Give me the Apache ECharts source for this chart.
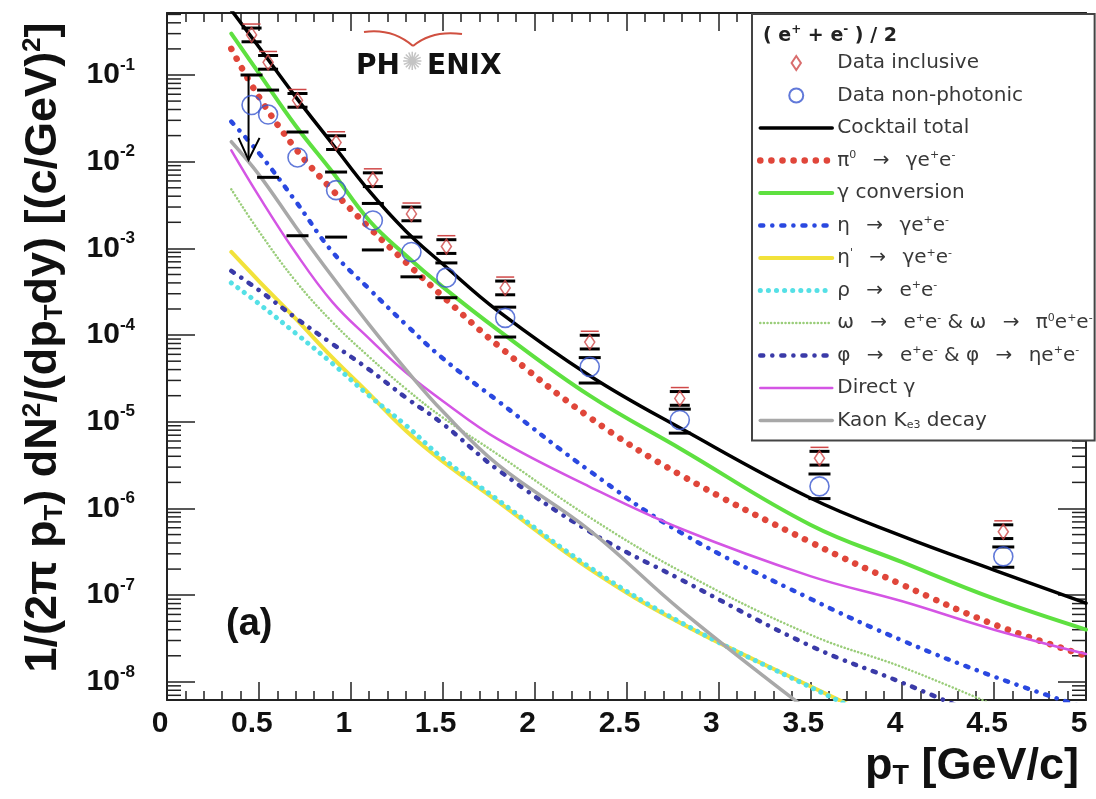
<!DOCTYPE html>
<html>
<head>
<meta charset="utf-8">
<title>PHENIX single electron spectra</title>
<script src="https://cdn.jsdelivr.net/npm/echarts@6.0.0/dist/echarts.min.js"></script>
<style>
  html, body { margin: 0; padding: 0; background: #fff; }
  #chart { width: 1096px; height: 799px; }
</style>
</head>
<body>
<div id="chart"></div>
<script>
// pT points of the cocktail curves [GeV/c]
const ptCurve = [0.35, 0.5, 0.7, 0.9, 1.1, 1.3, 1.5, 1.8, 2.3, 2.8, 3.5, 4.0, 4.5, 5.0]

// cocktail components
const cocktailTotal = [5.6e-1, 2.1e-1, 5.6e-2, 1.6e-2, 4.6e-3, 1.58e-3, 6.6e-4, 1.9e-4, 3.4e-5, 8.3e-6, 1.32e-6, 4.8e-7, 1.95e-7, 8.1e-8]
const pi0Dalitz = [2.0e-1, 5.6e-2, 1.41e-2, 4.7e-3, 1.74e-3, 6.9e-4, 2.8e-4, 7.6e-5, 1.12e-5, 2.4e-6, 4.1e-7, 1.32e-7, 4.6e-8, 2.0e-8]
const gammaConv = [3.0e-1, 1.05e-1, 2.6e-2, 7.6e-3, 2.1e-3, 8.3e-4, 3.6e-4, 1.15e-4, 2.0e-5, 4.8e-6, 6.5e-7, 2.4e-7, 9.1e-8, 4.0e-8]
const etaDalitz = [2.9e-2, 1.26e-2, 3.5e-3, 9.1e-4, 3.4e-4, 1.32e-4, 5.4e-5, 1.74e-5, 2.7e-6, 5.2e-7, 9.1e-8, 3.0e-8, 1.15e-8, 5.0e-9]
const etaPrime = [9.1e-4, 4.2e-4, 1.55e-4, 5.5e-5, 2.1e-5, 7.9e-6, 3.5e-6, 1.2e-6, 2.0e-7, 4.7e-8, 8.9e-9, 2.8e-9, null, null]
const rhoDecay = [4.0e-4, 2.3e-4, 1.05e-4, 4.7e-5, 2.0e-5, 9.1e-6, 3.8e-6, 1.26e-6, 2.1e-7, 4.8e-8, 8.7e-9, 2.75e-9, null, null]
const omegaDecay = [4.8e-3, 1.58e-3, 4.2e-4, 1.41e-4, 5.6e-5, 2.4e-5, 1.12e-5, 4.2e-6, 7.9e-7, 1.86e-7, 3.5e-8, 1.48e-8, 5.4e-9, null]
const phiDecay = [5.5e-4, 3.3e-4, 1.58e-4, 7.9e-5, 4.0e-5, 1.9e-5, 9.5e-6, 2.8e-6, 5.4e-7, 1.5e-7, 2.6e-8, 9.8e-9, 3.5e-9, null]
const directGamma = [1.35e-2, 4.0e-3, 8.9e-4, 2.4e-4, 9.1e-5, 3.7e-5, 1.74e-5, 6.3e-6, 1.78e-6, 5.8e-7, 1.66e-7, 8.5e-8, 4.0e-8, 2.1e-8]
const kaonKe3 = [1.7e-2, 7.1e-3, 1.78e-3, 4.7e-4, 1.32e-4, 4.0e-5, 1.32e-5, 3.2e-6, 5.6e-7, 6.6e-8, 4.5e-9, null, null, null]

// measured points
const ptData = [0.46, 0.55, 0.71, 0.92, 1.12, 1.33, 1.52, 1.84, 2.30, 2.79, 3.55, 4.55]
const inclusive = [2.9e-1, 1.4e-1, 5.1e-2, 1.66e-2, 6.2e-3, 2.5e-3, 1.05e-3, 3.5e-4, 8.3e-5, 1.86e-5, 3.8e-6, 5.4e-7]
const nonPhotonic = [4.5e-2, 3.5e-2, 1.12e-2, 4.7e-3, 2.1e-3, 9.1e-4, 4.6e-4, 1.58e-4, 4.3e-5, 1.05e-5, 1.8e-6, 2.8e-7]
const nonPhotSysHigh = [1.0e-1, 6.7e-2, 2.2e-2, 7.6e-3, 3.3e-3, 1.35e-3, 6.8e-4, 2.1e-4, 5.5e-5, 1.4e-5, 2.5e-6, 3.6e-7]
const nonPhotSysLow = [1.05e-2, 6.6e-3, 1.4e-3, 1.35e-3, 9.6e-4, 4.7e-4, 2.7e-4, 9.5e-5, 2.8e-5, 7.4e-6, 1.3e-6, 2.1e-7]
const upperLimit = [1, 0, 0, 0, 0, 0, 0, 0, 0, 0, 0, 0]

// axes
const xTicks = [0, 5, 0.5]
const yMin = 6.18e-9
const yMax = 0.519
const decades = [-9, -8, -7, -6, -5, -4, -3, -2, -1]

// legend texts (rich), ROOT-like wide spacing round the arrows
const ar = ' \u2002→\u2002 '
const legendText = {
  'Data inclusive': 'Data inclusive',
  'Data non-photonic': 'Data non-photonic',
  'Cocktail total': 'Cocktail total',
  'pi0': '{t|π}{sup|0}{t|' + ar + 'γe}{sup|+}{t|e}{sup|-}',
  'conv': 'γ conversion',
  'eta': '{t|η' + ar + 'γe}{sup|+}{t|e}{sup|-}',
  'etap': '{t|η}{sup|\'}{t|' + ar + 'γe}{sup|+}{t|e}{sup|-}',
  'rho': '{t|ρ' + ar + 'e}{sup|+}{t|e}{sup|-}',
  'omega': '{t|ω' + ar + 'e}{sup|+}{t|e}{sup|-}{t| & ω' + ar + 'π}{sup|0}{t|e}{sup|+}{t|e}{sup|-}',
  'phi': '{t|φ' + ar + 'e}{sup|+}{t|e}{sup|-}{t| & φ' + ar + 'ηe}{sup|+}{t|e}{sup|-}',
  'direct': 'Direct γ',
  'kaon': '{t|Kaon K}{sub|e3}{t| decay}'
}
const lineNames = ['Cocktail total', 'pi0', 'conv', 'eta', 'etap', 'rho', 'omega', 'phi', 'direct', 'kaon']

const pairs = arr => ptCurve.map((p, i) => [p, arr[i]]).filter(d => d[1] != null)

const minorTicks = []
decades.forEach(n => {
  for (let k = 2; k <= 9; k++) {
    const v = k * Math.pow(10, n)
    if (v > yMin && v < yMax) minorTicks.push([0, v])
  }
})

function curve(name, data, color, width, type) {
  return {
    name: name,
    type: 'line',
    data: pairs(data),
    smooth: 0.4,
    symbol: 'none',
    clip: true,
    lineStyle: { color: color, width: width, type: type || 'solid', cap: 'round' },
    itemStyle: { color: color },
    z: 2
  }
}

const chart = echarts.init(document.getElementById('chart'))

const font = 'Liberation Sans, Arial, sans-serif'
const legendFont = 'DejaVu Sans, sans-serif'
const legendColor = '#383838'

const option = {
  animation: false,
  backgroundColor: '#fff',
  grid: { left: 167, right: 10, top: 13, bottom: 99, containLabel: false, outerBoundsMode: 'none' },
  title: [
    {
      text: '(a)', left: 221, top: 601,
      textStyle: { fontFamily: font, fontSize: 38, fontWeight: 'bold', color: '#111' }
    },
    {
      text: '{a|p}{sub|T}{a| [GeV/c]}', right: 12, top: 738,
      textStyle: {
        fontFamily: font, color: '#111',
        rich: {
          a: { fontFamily: font, fontSize: 45, fontWeight: 'bold', color: '#111' },
          sub: { fontFamily: font, fontSize: 27, fontWeight: 'bold', color: '#111', padding: [20, 0, 0, 0] }
        }
      }
    },
    {
      text: '{b|( e}{sup|+}{b| + e}{sup|-}{b| ) / 2}', left: 758, top: 19, z: 10,
      textStyle: {
        fontFamily: legendFont, color: '#222',
        rich: {
          b: { fontFamily: legendFont, fontSize: 19, fontWeight: 'bold', color: '#222' },
          sup: { fontFamily: legendFont, fontSize: 12, fontWeight: 'bold', color: '#222', padding: [0, 0, 12, 0] }
        }
      }
    }
  ],
  legend: {
    orient: 'vertical',
    left: 752,
    top: 14,
    padding: [38, 2, 9, 5],
    itemWidth: 72,
    itemHeight: 14,
    itemGap: 10.5,
    backgroundColor: '#fff',
    borderColor: '#444',
    borderWidth: 2,
    borderRadius: 0,
    selectedMode: false,
    lineStyle: { width: 'inherit' },
    data: [
      { name: 'Data inclusive', icon: 'path://M5 0L10 7.5L5 15L0 7.5Z' },
      { name: 'Data non-photonic' }
    ].concat(lineNames.map(n => ({ name: n, itemStyle: { color: 'rgba(0,0,0,0)', borderWidth: 0 } }))),
    formatter: name => legendText[name],
    textStyle: {
      fontFamily: legendFont, fontSize: 20, color: legendColor, lineHeight: 22,
      rich: {
        t: { fontFamily: legendFont, fontSize: 20, color: legendColor, lineHeight: 22 },
        sup: { fontFamily: legendFont, fontSize: 11, color: legendColor, padding: [0, 0, 10, 0] },
        sub: { fontFamily: legendFont, fontSize: 11, color: legendColor, padding: [10, 0, 0, 0] }
      }
    }
  },
  xAxis: [
    {
      type: 'value', position: 'bottom', min: xTicks[0], max: xTicks[1], interval: xTicks[2],
      axisLine: { show: true, onZero: false, lineStyle: { color: '#222', width: 2 } },
      axisTick: { show: true, inside: true, length: 18, lineStyle: { color: '#222', width: 1.5 } },
      minorTick: { show: true, splitNumber: 5, length: 9, lineStyle: { color: '#222', width: 1.5 } },
      splitLine: { show: false },
      axisLabel: { margin: 9, padding: [0, 14, 0, 0], fontFamily: font, fontSize: 30, fontWeight: 'bold', color: '#111' }
    },
    {
      type: 'value', position: 'top', min: xTicks[0], max: xTicks[1], interval: xTicks[2],
      axisLine: { show: true, onZero: false, lineStyle: { color: '#222', width: 2 } },
      axisTick: { show: true, inside: true, length: 18, lineStyle: { color: '#222', width: 1.5 } },
      minorTick: { show: true, splitNumber: 5, length: 9, lineStyle: { color: '#222', width: 1.5 } },
      splitLine: { show: false },
      axisLabel: { show: false }
    }
  ],
  yAxis: [
    {
      type: 'log', logBase: 10, position: 'left', min: yMin, max: yMax,
      name: '{a|1/(2π p}{sub|T}{a|) dN}{sup|2}{a|/(dp}{sub|T}{a|dy) [(c/GeV)}{sup|2}{a|]}',
      nameLocation: 'middle', nameRotate: 90, nameGap: 99,
      nameTextStyle: {
        fontFamily: font, fontSize: 45, fontWeight: 'bold', color: '#111',
        padding: [0, 0, 0, 18],
        rich: {
          a: { fontFamily: font, fontSize: 45, fontWeight: 'bold', color: '#111' },
          sub: { fontFamily: font, fontSize: 26, fontWeight: 'bold', color: '#111', padding: [22, 0, 0, 0] },
          sup: { fontFamily: font, fontSize: 26, fontWeight: 'bold', color: '#111', padding: [0, 0, 22, 0] }
        }
      },
      axisLine: { show: true, onZero: false, lineStyle: { color: '#222', width: 2 } },
      axisTick: { show: true, inside: true, length: 28, lineStyle: { color: '#222', width: 1.5 } },
      splitLine: { show: false },
      axisLabel: {
        margin: 32,
        formatter: function (v) {
          const e = Math.log10(v)
          const r = Math.round(e)
          if (Math.abs(e - r) > 1e-6) return ''
          return '{b|10}{sup|' + r + '}'
        },
        rich: {
          b: { fontFamily: font, fontSize: 30, fontWeight: 'bold', color: '#111' },
          sup: { fontFamily: font, fontSize: 17, fontWeight: 'bold', color: '#111', padding: [0, 0, 20, 0] }
        }
      }
    },
    {
      type: 'log', logBase: 10, position: 'right', min: yMin, max: yMax,
      axisLine: { show: true, onZero: false, lineStyle: { color: '#222', width: 2 } },
      axisTick: { show: true, inside: true, length: 28, lineStyle: { color: '#222', width: 1.5 } },
      splitLine: { show: false },
      axisLabel: { show: false }
    }
  ],
  graphic: [
    { type: 'text', left: 356, top: 53, style: { text: 'PH', font: 'bold 28px DejaVu Sans', fill: '#111' } },
    { type: 'text', left: 427, top: 53, style: { text: 'ENIX', font: 'bold 28px DejaVu Sans', fill: '#111' } },
    { type: 'text', left: 402, top: 51, style: { text: '✺', font: '25px DejaVu Sans', fill: '#c4c4c4' } },
    { type: 'bezierCurve', shape: { x1: 364, y1: 32, cpx1: 392, cpy1: 28, x2: 413, y2: 46 }, style: { stroke: '#d05040', lineWidth: 2, fill: 'none' } },
    { type: 'bezierCurve', shape: { x1: 413, y1: 46, cpx1: 432, cpy1: 30, x2: 462, y2: 34 }, style: { stroke: '#d05040', lineWidth: 2, fill: 'none' } }
  ],
  series: [
    // log minor ticks on both vertical axes
    {
      name: 'yMinor', type: 'custom', data: minorTicks, silent: true, z: 1,
      renderItem: function (params, api) {
        const l = api.coord([xTicks[0], api.value(1)])
        const r = api.coord([xTicks[1], api.value(1)])
        const s = { stroke: '#222', lineWidth: 1.5 }
        return {
          type: 'group',
          children: [
            { type: 'line', shape: { x1: l[0], y1: l[1], x2: l[0] + 14, y2: l[1] }, style: s },
            { type: 'line', shape: { x1: r[0] - 14, y1: r[1], x2: r[0], y2: r[1] }, style: s }
          ]
        }
      }
    },
    curve('Cocktail total', cocktailTotal, '#000', 3.5),
    curve('pi0', pi0Dalitz, '#e0463a', 6.5, [0.1, 11]),
    curve('conv', gammaConv, '#5ee040', 4),
    curve('eta', etaDalitz, '#2a48e0', 4.5, [3, 9, 0.1, 9]),
    curve('etap', etaPrime, '#f2e23a', 4),
    curve('rho', rhoDecay, '#55e0e6', 5, [0.1, 8]),
    curve('omega', omegaDecay, '#9acd7a', 2.5, [0.1, 3.5]),
    curve('phi', phiDecay, '#3a3aa8', 4.5, [3, 9, 0.1, 9]),
    curve('direct', directGamma, '#d455e4', 2.5),
    curve('kaon', kaonKe3, '#a8a8a8', 3.5),
    // systematic brackets of the non-photonic data
    {
      name: 'nonPhotSys', type: 'custom', z: 4, silent: true,
      data: ptData.map((p, i) => [p, nonPhotSysHigh[i], nonPhotSysLow[i], upperLimit[i]]),
      renderItem: function (params, api) {
        const x = api.value(0)
        const hi = api.coord([x, api.value(1)])
        const lo = api.coord([x, api.value(2)])
        const s = { stroke: '#000', lineWidth: 3 }
        const kids = [{ type: 'line', shape: { x1: hi[0] - 11, y1: hi[1], x2: hi[0] + 11, y2: hi[1] }, style: s }]
        if (api.value(3)) {
          const s2 = { stroke: '#000', lineWidth: 2, fill: 'none' }
          kids.push({ type: 'line', shape: { x1: hi[0] - 3, y1: hi[1], x2: lo[0] - 3, y2: lo[1] }, style: s2 })
          kids.push({ type: 'polyline', shape: { points: [[lo[0] - 13, lo[1] - 22], [lo[0] - 3, lo[1]], [lo[0] + 8, lo[1] - 22]] }, style: s2 })
        } else {
          kids.push({ type: 'line', shape: { x1: lo[0] - 11, y1: lo[1], x2: lo[0] + 11, y2: lo[1] }, style: s })
        }
        return { type: 'group', children: kids }
      }
    },
    // error caps of the inclusive data
    {
      name: 'inclSys', type: 'custom', z: 4, silent: true,
      data: ptData.map((p, i) => [p, inclusive[i]]),
      renderItem: function (params, api) {
        const x = api.value(0)
        const v = api.value(1)
        const hi = api.coord([x, v * 1.2])
        const lo = api.coord([x, v / 1.2])
        const s = { stroke: '#000', lineWidth: 3 }
        const r = { stroke: '#d04848', lineWidth: 1.5 }
        return {
          type: 'group',
          children: [
            { type: 'line', shape: { x1: hi[0] - 10, y1: hi[1], x2: hi[0] + 10, y2: hi[1] }, style: s },
            { type: 'line', shape: { x1: lo[0] - 10, y1: lo[1], x2: lo[0] + 10, y2: lo[1] }, style: s },
            { type: 'line', shape: { x1: hi[0] - 9, y1: hi[1] - 4, x2: hi[0] + 9, y2: hi[1] - 4 }, style: r }
          ]
        }
      }
    },
    {
      name: 'Data non-photonic', type: 'scatter', z: 5,
      data: ptData.map((p, i) => [p, nonPhotonic[i]]),
      symbol: 'circle', symbolSize: 19,
      itemStyle: { color: 'rgba(255,255,255,0)', borderColor: '#3a58d0', borderWidth: 1.6 }
    },
    {
      name: 'Data inclusive', type: 'scatter', z: 6,
      data: ptData.map((p, i) => [p, inclusive[i]]),
      symbol: 'diamond', symbolSize: [10, 15],
      itemStyle: { color: 'rgba(255,255,255,0)', borderColor: '#d04848', borderWidth: 1.6 }
    }
  ]
}

chart.setOption(option)

window.addEventListener('resize', () => {
  chart.resize()
})
</script>
</body>
</html>
